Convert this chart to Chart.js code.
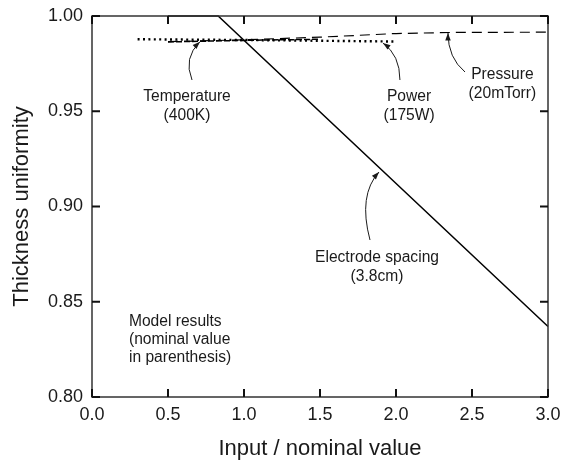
<!DOCTYPE html>
<html lang="en">
<head>
    <meta charset="UTF-8">
    <title>Thickness uniformity vs input</title>
    <script src="https://cdn.jsdelivr.net/npm/chart.js"></script>
    <style>
        body { margin: 0; background: #ffffff; }
        .chart-container { position: relative; width: 561px; height: 462px; }
    </style>
</head>
<body>
    <div class="chart-container">
        <canvas id="uniformityChart" width="561" height="462"></canvas>
    </div>

    <script>
        // Model results (x = input / nominal value)
        const electrodeX = [0.5, 0.83, 3.0];
        const electrodeY = [1.0, 1.0, 0.837];
        const powerX = [0.3, 1.0, 2.0];
        const powerY = [0.9878, 0.9874, 0.9866];
        const temperatureX = [0.5, 1.0, 1.5];
        const temperatureY = [0.9864, 0.9872, 0.9878];
        const pressureX = [0.5, 1.0, 1.5, 2.0, 2.4, 3.0];
        const pressureY = [0.9865, 0.9875, 0.9889, 0.9908, 0.9914, 0.9915];

        // Callout labels: text lines, label anchor, arrow start, bend, tip (data units)
        const calloutText = [
            ['Temperature', '(400K)'],
            ['Power', '(175W)'],
            ['Pressure', '(20mTorr)'],
            ['Electrode spacing', '(3.8cm)']
        ];
        const calloutLabel = [[0.625, 0.9576], [2.086, 0.9576], [2.70, 0.9690], [1.875, 0.8730]];
        const arrowFrom = [[0.658, 0.9664], [2.026, 0.9664], [2.454, 0.9706], [1.829, 0.8824]];
        const arrowBend = [[0.599, 0.9780], [2.026, 0.9795], [2.342, 0.9780], [1.750, 0.9060]];
        const arrowTo = [[0.7105, 0.9865], [1.914, 0.9858], [2.342, 0.9911], [1.888, 0.9181]];
        const noteLines = ['Model results', '(nominal value', 'in parenthesis)'];
        const noteAnchor = [0.243, 0.8394];

        const toPoints = (xs, ys) => xs.map((x, i) => ({ x: x, y: ys[i] }));
        const FONT = "'Liberation Sans', Arial, Helvetica, sans-serif";
        const INK = '#1a1a1a';

        // keep the plot box fixed: no extra room for overhanging tick labels
        const noOverhang = s => {
            s.paddingLeft = 0; s.paddingRight = 0;
            s.paddingTop = 0; s.paddingBottom = 0;
        };

        // Frame with inward ticks on all four sides, plus callouts
        const decorations = {
            id: 'decorations',
            afterDraw(chart) {
                const ctx = chart.ctx;
                const a = chart.chartArea;
                const xs = chart.scales.x;
                const ys = chart.scales.y;
                ctx.save();
                ctx.strokeStyle = '#333';
                ctx.lineWidth = 1.5;
                ctx.strokeRect(a.left, a.top, a.right - a.left, a.bottom - a.top);
                ctx.beginPath();
                xs.ticks.forEach(t => {
                    const px = xs.getPixelForValue(t.value);
                    ctx.moveTo(px, a.bottom); ctx.lineTo(px, a.bottom - 8);
                    ctx.moveTo(px, a.top); ctx.lineTo(px, a.top + 8);
                });
                ys.ticks.forEach(t => {
                    const py = ys.getPixelForValue(t.value);
                    ctx.moveTo(a.left, py); ctx.lineTo(a.left + 8, py);
                    ctx.moveTo(a.right, py); ctx.lineTo(a.right - 8, py);
                });
                ctx.lineWidth = 2;
                ctx.strokeStyle = '#111';
                ctx.stroke();

                ctx.fillStyle = INK;
                ctx.strokeStyle = INK;
                ctx.font = '15.6px ' + FONT;
                ctx.textBaseline = 'middle';
                ctx.textAlign = 'center';
                calloutText.forEach((lines, i) => {
                    const lx = xs.getPixelForValue(calloutLabel[i][0]);
                    const ly = ys.getPixelForValue(calloutLabel[i][1]);
                    lines.forEach((s, j) => ctx.fillText(s, lx, ly + j * 18.5));

                    const sx = xs.getPixelForValue(arrowFrom[i][0]);
                    const sy = ys.getPixelForValue(arrowFrom[i][1]);
                    const cx = xs.getPixelForValue(arrowBend[i][0]);
                    const cy = ys.getPixelForValue(arrowBend[i][1]);
                    const tx = xs.getPixelForValue(arrowTo[i][0]);
                    const ty = ys.getPixelForValue(arrowTo[i][1]);
                    ctx.lineWidth = 1;
                    ctx.beginPath();
                    ctx.moveTo(sx, sy);
                    ctx.quadraticCurveTo(cx, cy, tx, ty);
                    ctx.stroke();
                    const ang = Math.atan2(ty - cy, tx - cx);
                    ctx.beginPath();
                    ctx.moveTo(tx, ty);
                    ctx.lineTo(tx - 8 * Math.cos(ang - 0.35), ty - 8 * Math.sin(ang - 0.35));
                    ctx.lineTo(tx - 8 * Math.cos(ang + 0.35), ty - 8 * Math.sin(ang + 0.35));
                    ctx.closePath();
                    ctx.fill();
                });

                ctx.textAlign = 'left';
                const nx = xs.getPixelForValue(noteAnchor[0]);
                const ny = ys.getPixelForValue(noteAnchor[1]);
                noteLines.forEach((s, j) => ctx.fillText(s, nx, ny + j * 18));
                ctx.restore();
            }
        };

        const ctxChart = document.getElementById('uniformityChart').getContext('2d');
        new Chart(ctxChart, {
            type: 'scatter',
            data: {
                datasets: [
                    {
                        label: 'Electrode spacing',
                        data: toPoints(electrodeX, electrodeY),
                        showLine: true,
                        borderColor: '#000',
                        borderWidth: 1.5,
                        pointRadius: 0,
                        clip: false
                    },
                    {
                        label: 'Power',
                        data: toPoints(powerX, powerY),
                        showLine: true,
                        borderColor: '#000',
                        borderWidth: 2.4,
                        borderDash: [2, 3.4],
                        pointRadius: 0
                    },
                    {
                        label: 'Temperature',
                        data: toPoints(temperatureX, temperatureY),
                        showLine: true,
                        borderColor: '#000',
                        borderWidth: 1.5,
                        borderDash: [6, 2],
                        pointRadius: 0
                    },
                    {
                        label: 'Pressure',
                        data: toPoints(pressureX, pressureY),
                        showLine: true,
                        borderColor: '#000',
                        borderWidth: 1.2,
                        borderDash: [10, 6],
                        pointRadius: 0
                    }
                ]
            },
            options: {
                responsive: false,
                animation: false,
                devicePixelRatio: 1,
                layout: { padding: { left: 0, right: 13, top: 16, bottom: 0 } },
                plugins: { legend: { display: false }, tooltip: { enabled: false } },
                scales: {
                    x: {
                        type: 'linear',
                        min: 0, max: 3,
                        afterFit: s => { s.height = 65; noOverhang(s); },
                        ticks: {
                            stepSize: 0.5,
                            padding: 7,
                            color: INK,
                            font: { family: FONT, size: 18 },
                            callback: v => v.toFixed(1)
                        },
                        grid: { drawOnChartArea: false, drawTicks: false },
                        border: { display: false },
                        title: {
                            display: true,
                            text: 'Input / nominal value',
                            color: INK,
                            font: { family: FONT, size: 22 },
                            padding: { top: 0, bottom: 0 }
                        }
                    },
                    y: {
                        type: 'linear',
                        min: 0.8, max: 1.0,
                        afterFit: s => { s.width = 92; noOverhang(s); },
                        ticks: {
                            stepSize: 0.05,
                            padding: 9,
                            color: INK,
                            font: { family: FONT, size: 18 },
                            callback: v => v.toFixed(2)
                        },
                        grid: { drawOnChartArea: false, drawTicks: false },
                        border: { display: false },
                        title: {
                            display: true,
                            text: 'Thickness uniformity',
                            color: INK,
                            font: { family: FONT, size: 22 },
                            padding: { top: 9, bottom: 0 }
                        }
                    }
                }
            },
            plugins: [decorations]
        });
    </script>
</body>
</html>
